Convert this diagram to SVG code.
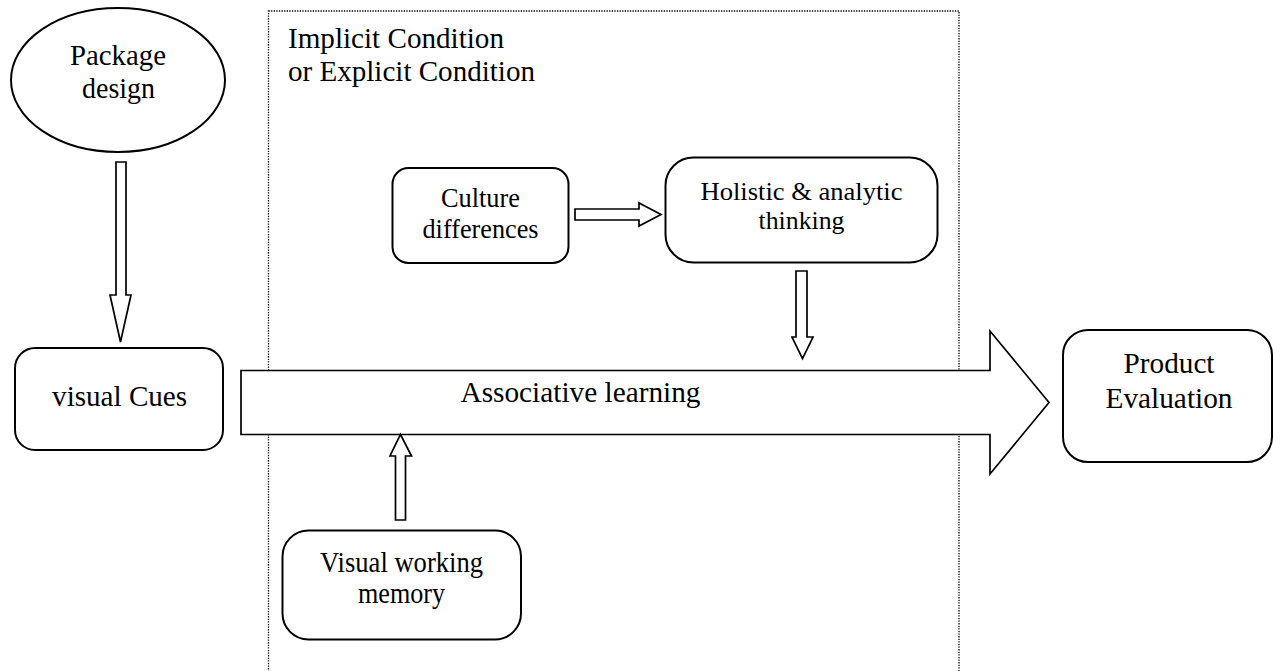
<svg xmlns="http://www.w3.org/2000/svg" width="1273" height="671" viewBox="0 0 1273 671">
<style>
.node{fill:#fff;stroke:#000;stroke-width:2}
.arrow{fill:#fff;stroke:#000;stroke-width:1.7;stroke-linejoin:miter}
.frame{fill:none;stroke:#000;stroke-width:1.3;stroke-dasharray:1.3 1.3}
text{font-family:"Liberation Serif","Times New Roman",serif;font-size:29px;fill:#000}
.c{text-anchor:middle}
.s27{font-size:27px}
.s26{font-size:26px}
</style>
<rect width="1273" height="671" fill="#fff"/>
<g id="condition-frame">
<rect class="frame" x="268.5" y="11" width="690.5" height="680"/>
<text x="288" y="48" textLength="216" lengthAdjust="spacingAndGlyphs">Implicit Condition</text>
<text x="288" y="81" textLength="247" lengthAdjust="spacingAndGlyphs">or Explicit Condition</text>
</g>
<g id="package-design">
<ellipse class="node" cx="118" cy="80" rx="107" ry="72"/>
<text class="c" x="118" y="65" textLength="96" lengthAdjust="spacingAndGlyphs">Package</text>
<text class="c" x="118.5" y="97.5" textLength="73" lengthAdjust="spacingAndGlyphs">design</text>
</g>
<g id="visual-cues">
<rect class="node" x="15" y="348" width="208" height="102" rx="20"/>
<text class="c" x="119.6" y="405.5" textLength="135" lengthAdjust="spacingAndGlyphs">visual Cues</text>
</g>
<g id="culture-differences">
<rect class="node" x="392.5" y="168" width="176" height="95" rx="16"/>
<text class="c s27" x="480.5" y="207" textLength="79" lengthAdjust="spacingAndGlyphs">Culture</text>
<text class="c s27" x="480.5" y="238" textLength="116" lengthAdjust="spacingAndGlyphs">differences</text>
</g>
<g id="holistic-thinking">
<rect class="node" x="665.5" y="157.5" width="272" height="105" rx="28"/>
<text class="c s26" x="801.5" y="200" textLength="202" lengthAdjust="spacingAndGlyphs">Holistic &amp; analytic</text>
<text class="c s26" x="801.5" y="229" textLength="86" lengthAdjust="spacingAndGlyphs">thinking</text>
</g>
<g id="product-evaluation">
<rect class="node" x="1063" y="330" width="209" height="132" rx="25"/>
<text class="c" x="1169" y="373" textLength="91" lengthAdjust="spacingAndGlyphs">Product</text>
<text class="c" x="1169" y="408" textLength="127" lengthAdjust="spacingAndGlyphs">Evaluation</text>
</g>
<g id="visual-working-memory">
<rect class="node" x="282.5" y="530.5" width="238.5" height="109" rx="26"/>
<text class="c" x="401.5" y="572" textLength="163" lengthAdjust="spacingAndGlyphs">Visual working</text>
<text class="c" x="401.5" y="603" textLength="87" lengthAdjust="spacingAndGlyphs">memory</text>
</g>
<g id="connectors">
<polygon class="arrow" points="116,162 126,162 126,295 131,295 120.5,342 110,295 116,295"/>
<polygon class="arrow" points="575,209 639,209 639,203 661,214.5 639,226 639,220 575,220"/>
<polygon class="arrow" points="796,271 807,271 807,337 813,337 802.5,358.5 792,337 796,337"/>
<polygon class="arrow" points="241,370.5 990,370.5 990,331 1049,402.5 990,474 990,434.5 241,434.5"/>
<polygon class="arrow" points="395.5,520 405.5,520 405.5,456 411.5,456 400.5,434.5 390,456 395.5,456"/>
<text x="460.5" y="402" textLength="240" lengthAdjust="spacingAndGlyphs">Associative learning</text>
</g>
</svg>
